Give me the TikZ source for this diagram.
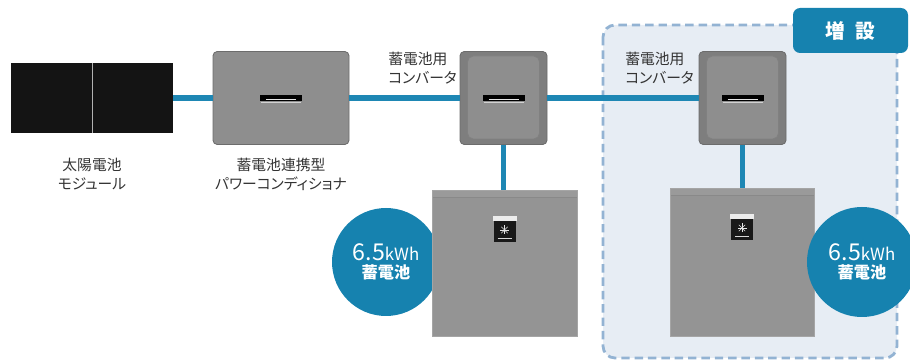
\documentclass[tikz,border=0pt]{standalone}
\usepackage{fontspec}
\setmainfont[RawFeature=+palt]{Noto Sans CJK JP}
\usetikzlibrary{calc}

\definecolor{cable}{HTML}{1E87B4}
\definecolor{accent}{HTML}{1682AF}
\definecolor{boxfill}{HTML}{E7EDF4}
\definecolor{boxline}{HTML}{93B3D3}
\definecolor{unitgray}{HTML}{8E8E8E}
\definecolor{unitlight}{HTML}{9A9A9A}
\definecolor{unitdark}{HTML}{6C6C6C}
\definecolor{convshell}{HTML}{7E7E7E}
\definecolor{labeltext}{HTML}{333333}

\newcommand{\pu}{0.025cm}

\tikzset{
  cableline/.style={cable, line width=3.6pt},
  solarpanel/.style={fill=black!92, minimum width=162*\pu, minimum height=70*\pu, inner sep=0},
  nameplate/.pic={
      \fill[black, sharp corners] (-21*\pu,-3*\pu) rectangle (21*\pu,3*\pu);
      \draw[white!80!gray, line width=0.3pt] (-15*\pu,-1.2*\pu) -- (15*\pu,-1.2*\pu);
      \draw[white!65!gray, line width=0.6pt] (-20*\pu,-4.5*\pu) -- (20*\pu,-4.5*\pu);},
  pcsunit/.style={fill=unitgray, draw=unitdark, line width=0.6pt, rounded corners=3pt,
      minimum width=136*\pu, minimum height=93*\pu, inner sep=0},
  convunit/.style={fill=convshell, draw=unitdark, line width=0.6pt, rounded corners=3pt,
      minimum width=87*\pu, minimum height=93*\pu, inner sep=0,
      path picture={
        \draw[fill=unitgray, draw=black!50, line width=0.7pt, rounded corners=4pt]
          ([shift={(-36*\pu,-41*\pu)}]path picture bounding box.center) rectangle ++(72*\pu,83*\pu);}},
  battunit/.style={fill=unitgray!95!white, draw=unitgray!80!white, line width=0.4pt,
      minimum width=145*\pu, minimum height=146*\pu, inner sep=0,
      path picture={
        \fill[unitlight] (path picture bounding box.north west) rectangle ([yshift=-7*\pu]path picture bounding box.north east);
        \draw[unitdark!80!white, line width=0.4pt] ([yshift=-7*\pu]path picture bounding box.north west) -- ([yshift=-7*\pu]path picture bounding box.north east);
        \fill[white!85!gray] ([shift={(-12*\pu,-26*\pu)}]path picture bounding box.north) rectangle ++(24*\pu,-5*\pu);
        \fill[black!90] ([shift={(-11*\pu,-31*\pu)}]path picture bounding box.north) rectangle ++(22*\pu,-21*\pu);
        \foreach \a in {0,45,...,315}
          \draw[white!80!gray, line width=0.3pt] ([yshift=-40*\pu]path picture bounding box.north) -- ++(\a:4.5*\pu);
        \draw[white!70!gray, line width=0.4pt] ([shift={(-7*\pu,-48.5*\pu)}]path picture bounding box.north) -- ++(14*\pu,0);}},
  capacity/.style={circle, fill=accent, text=white, align=center, inner sep=0, minimum size=#1*\pu},
  extbox/.style={fill=boxfill, draw=boxline, line width=2pt, dash pattern=on 6pt off 3.5pt, rounded corners=0.3cm},
  exttab/.style={fill=accent, rounded corners=5pt, minimum width=115*\pu, minimum height=45*\pu,
      text=white, font=\fontsize{14}{16}\selectfont\bfseries},
  caption/.style={text=labeltext, font=\fontsize{10.5}{13.5}\selectfont, inner sep=0},
}

\newcommand{\capacitytext}{{\fontsize{16.5}{18}\selectfont 6.5}{\fontsize{12}{14}\selectfont kWh}\\[1pt]{\fontsize{11.5}{14}\selectfont\bfseries 蓄電池}}

\begin{document}
\begin{tikzpicture}[x=\pu, y=-\pu]
  \useasboundingbox (0,0) rectangle (910,360);

  \draw[extbox] (603,25) rectangle (897,358);
  \node[exttab] (tab) at (850.5,30.5) {増\hspace{0.5em}設};

  \node[solarpanel] (solar) at (92,98) {};
  \draw[gray!60, line width=0.4pt] (solar.north) -- (solar.south);
  \node[pcsunit] (pcs) at (281,98) {};
  \node[convunit] (conv1) at (503.5,98) {};
  \node[convunit] (conv2) at (742.5,98) {};
  \pic at (pcs.center) {nameplate};
  \pic at (conv1.center) {nameplate};
  \pic at (conv2.center) {nameplate};

  \draw[cableline] (solar.east) -- (pcs.west);
  \draw[cableline] (pcs.east) -- (conv1.west);
  \draw[cableline] (conv1.east) -- (conv2.west);

  \node[capacity=108] (cap1) at (386,262) {\capacitytext};
  \node[battunit] (bat1) at (504.5,263) {};
  \node[battunit, minimum width=144*\pu, minimum height=148*\pu] (bat2) at (742,262) {};
  \node[capacity=110] (cap2) at (862,262) {\capacitytext};

  \draw[cableline] (conv1.south) -- (conv1.south |- bat1.north);
  \draw[cableline] (conv2.south) -- (conv2.south |- bat2.north);

  \node[caption, align=center] (lblsolar) at (92,174) {太陽電池\\モジュール};
  \node[caption, align=center] (lblpcs) at (281,174) {蓄電池連携型\\パワーコンディショナ};
  \node[caption, align=left, anchor=north west] (lblconv1) at (388,52) {蓄電池用\\コンバータ};
  \node[caption, align=left, anchor=north west] (lblconv2) at (625,52) {蓄電池用\\コンバータ};
\end{tikzpicture}
\end{document}
